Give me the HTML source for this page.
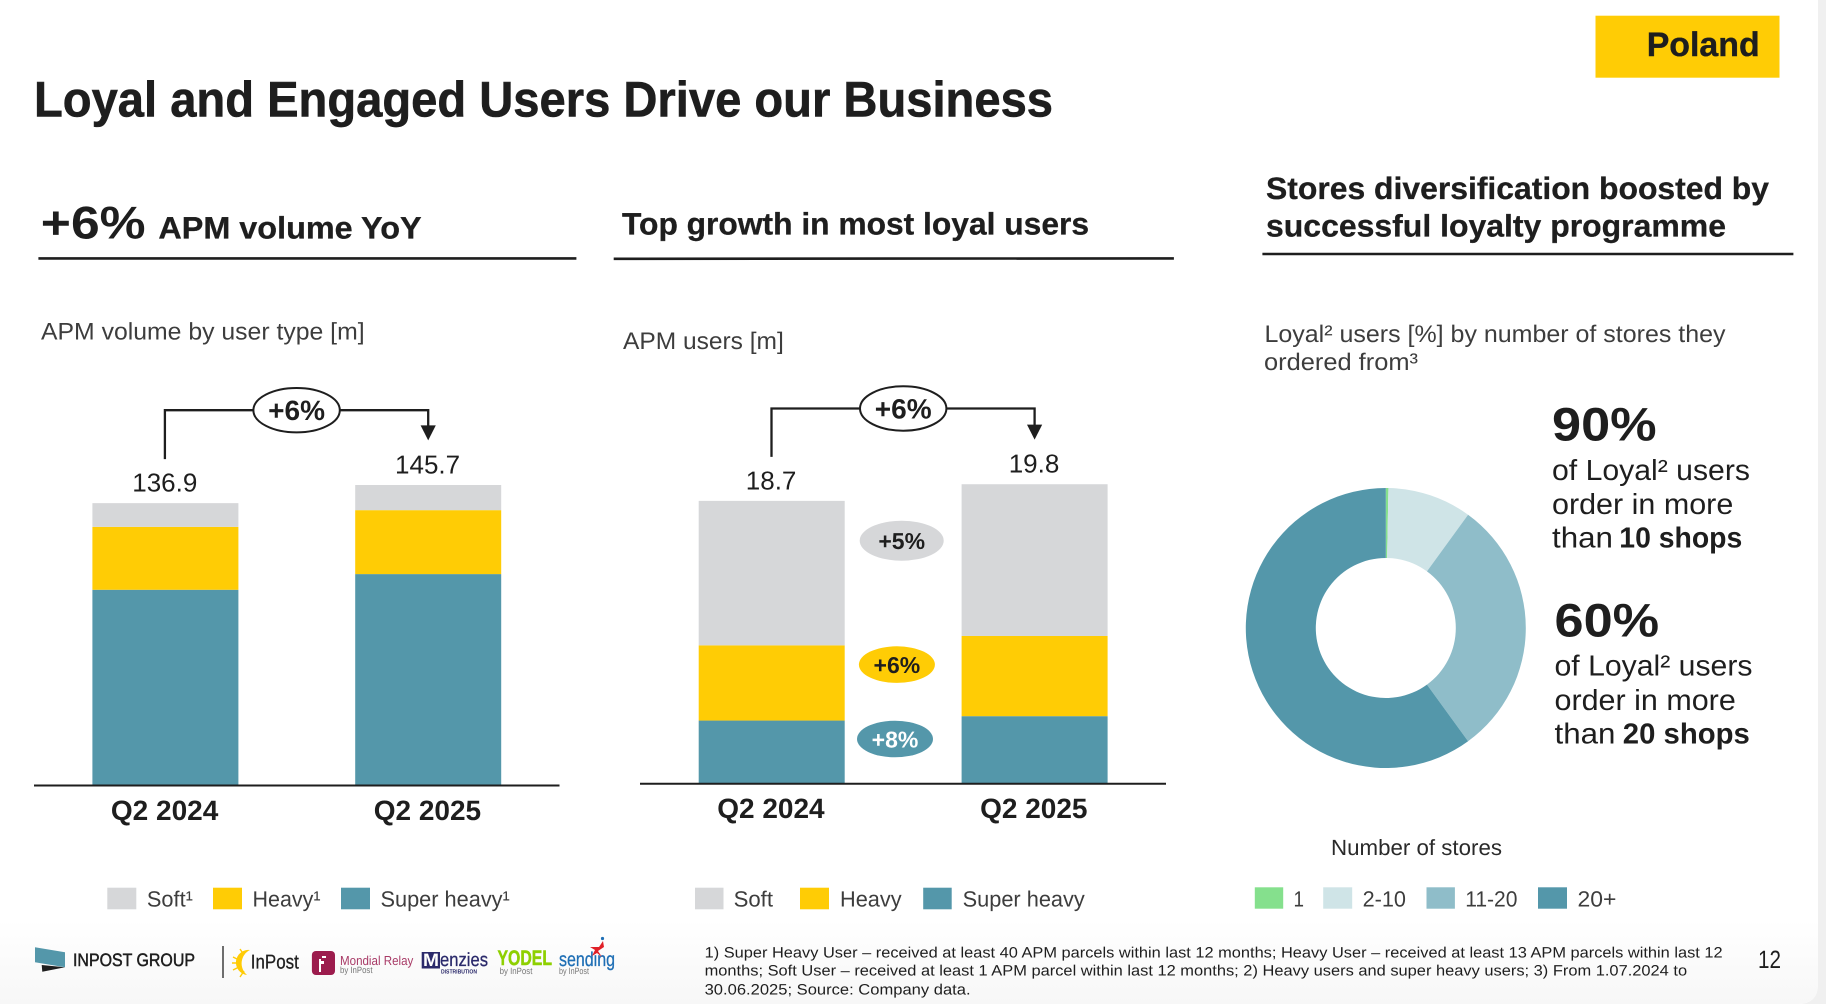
<!DOCTYPE html>
<html lang="en">
<head>
<meta charset="utf-8">
<title>Loyal and Engaged Users Drive our Business</title>
<style>
html,body{margin:0;padding:0;background:#fff;width:1826px;height:1004px;overflow:hidden}
svg{display:block}
text{font-family:"Liberation Sans",sans-serif;fill:#1e1e1e;text-rendering:geometricPrecision}
.b{font-weight:700}
.sub{font-size:24px;fill:#3d3d3d}
.head{font-size:31px;font-weight:700;stroke:#1e1e1e;stroke-width:.3}
.call{font-size:29px}
.big{font-size:47px;font-weight:700}
.leg{font-size:22px;fill:#3d3d3d}
.foot{font-size:15px}
.byline{font-size:9px;fill:#777}
.rule{stroke:#1e1e1e;stroke-width:2.6}
</style>
</head>
<body>
<svg id="slide" xmlns="http://www.w3.org/2000/svg" width="1826" height="1004" viewBox="0 0 1826 1004">
<defs>
<linearGradient id="bottomFade" x1="0" y1="0" x2="0" y2="1">
<stop offset="0" stop-color="#ffffff"/><stop offset="1" stop-color="#f7f7f7"/>
</linearGradient>
</defs>
<rect x="0" y="0" width="1826" height="1004" fill="#f0f0f0"/>
<path d="M0 0H1818V984Q1818 1004 1798 1004H0Z" fill="#ffffff"/>
<path d="M0 920H1818V984Q1818 1004 1798 1004H0Z" fill="url(#bottomFade)"/>

<rect x="1595.5" y="15.7" width="184" height="62" fill="#ffcc05"/>
<text x="1646.7" y="56" font-size="34" class="b" textLength="113" lengthAdjust="spacingAndGlyphs" style="stroke:#1e1e1e;stroke-width:.4">Poland</text>
<text x="34" y="116.7" font-size="50" class="b" textLength="1019" lengthAdjust="spacingAndGlyphs" style="stroke:#1e1e1e;stroke-width:.6">Loyal and Engaged Users Drive our Business</text>

<g>
<text x="40.8" y="238.3" font-size="46" class="b" textLength="104.8" lengthAdjust="spacingAndGlyphs">+6%</text>
<text x="158.4" y="238.3" class="head" textLength="263.2" lengthAdjust="spacingAndGlyphs">APM volume YoY</text>
<line x1="38.4" y1="258.4" x2="576.4" y2="258.4" class="rule"/>
</g>
<g>
<text x="622" y="234.3" class="head" textLength="467" lengthAdjust="spacingAndGlyphs">Top growth in most loyal users</text>
<line x1="613.7" y1="258.8" x2="1173.9" y2="258.4" class="rule"/>
</g>
<g>
<text x="1266" y="199" class="head" textLength="503" lengthAdjust="spacingAndGlyphs">Stores diversification boosted by</text>
<text x="1266" y="236.7" class="head" textLength="460" lengthAdjust="spacingAndGlyphs">successful loyalty programme</text>
<line x1="1262.4" y1="254" x2="1793.4" y2="254" class="rule"/>
</g>

<text x="41" y="339.6" class="sub" textLength="323.6" lengthAdjust="spacingAndGlyphs">APM volume by user type [m]</text>
<text x="623" y="349" class="sub" textLength="160.8" lengthAdjust="spacingAndGlyphs">APM users [m]</text>
<text x="1264.5" y="342" class="sub" textLength="461" lengthAdjust="spacingAndGlyphs">Loyal² users [%] by number of stores they</text>
<text x="1264" y="370" class="sub" textLength="154" lengthAdjust="spacingAndGlyphs">ordered from³</text>

<g id="volume-chart"></g>
<g id="users-chart"></g>
<g id="stores-chart"></g>

<g>
<ellipse cx="901.7" cy="540.7" rx="42" ry="20" fill="#d6d7d9"/>
<text x="901.7" y="549" font-size="23" class="b" text-anchor="middle">+5%</text>
<ellipse cx="896.9" cy="664.6" rx="38" ry="18.3" fill="#ffcc05"/>
<text x="896.9" y="672.9" font-size="23" class="b" text-anchor="middle">+6%</text>
<ellipse cx="895" cy="739" rx="38" ry="18.3" fill="#5497aa"/>
<text x="895" y="747.3" font-size="23" class="b" text-anchor="middle" style="fill:#fff">+8%</text>
</g>

<g>
<text x="1552" y="440.5" class="big" textLength="104.6" lengthAdjust="spacingAndGlyphs">90%</text>
<text x="1552" y="479.8" class="call" textLength="198" lengthAdjust="spacingAndGlyphs">of Loyal² users</text>
<text x="1552" y="513.9" class="call" textLength="181.3" lengthAdjust="spacingAndGlyphs">order in more</text>
<text x="1552" y="547.6" class="call" textLength="61" lengthAdjust="spacingAndGlyphs">than</text>
<text x="1619.3" y="547.6" class="call b" textLength="123" lengthAdjust="spacingAndGlyphs">10 shops</text>
</g>
<g>
<text x="1554.5" y="636.3" class="big" textLength="104.6" lengthAdjust="spacingAndGlyphs">60%</text>
<text x="1554.5" y="675.7" class="call" textLength="198" lengthAdjust="spacingAndGlyphs">of Loyal² users</text>
<text x="1554.5" y="709.8" class="call" textLength="181.3" lengthAdjust="spacingAndGlyphs">order in more</text>
<text x="1554.5" y="743.5" class="call" textLength="61" lengthAdjust="spacingAndGlyphs">than</text>
<text x="1622.8" y="743.5" class="call b" textLength="127" lengthAdjust="spacingAndGlyphs">20 shops</text>
</g>

<g>
<g><rect x="107.3" y="887.7" width="29" height="21.6" fill="#d6d7d9"/><text x="146.9" y="906.7" class="leg" textLength="46" lengthAdjust="spacingAndGlyphs">Soft¹</text></g>
<g><rect x="213" y="887.7" width="29" height="21.6" fill="#ffcc05"/><text x="252.5" y="906.7" class="leg" textLength="68" lengthAdjust="spacingAndGlyphs">Heavy¹</text></g>
<g><rect x="341" y="887.7" width="29" height="21.6" fill="#5497aa"/><text x="380.5" y="906.7" class="leg" textLength="129.3" lengthAdjust="spacingAndGlyphs">Super heavy¹</text></g>
</g>
<g>
<g><rect x="695" y="887.7" width="28.5" height="21.6" fill="#d6d7d9"/><text x="733.6" y="906.7" class="leg" textLength="39.4" lengthAdjust="spacingAndGlyphs">Soft</text></g>
<g><rect x="800" y="887.7" width="29" height="21.6" fill="#ffcc05"/><text x="840" y="906.7" class="leg" textLength="61.6" lengthAdjust="spacingAndGlyphs">Heavy</text></g>
<g><rect x="923.2" y="887.7" width="28.5" height="21.6" fill="#5497aa"/><text x="962.6" y="906.7" class="leg" textLength="122.2" lengthAdjust="spacingAndGlyphs">Super heavy</text></g>
</g>
<text x="1331" y="855" class="leg" style="fill:#2a2a2a" textLength="171" lengthAdjust="spacingAndGlyphs">Number of stores</text>
<g>
<g><rect x="1254.8" y="887.3" width="28.4" height="21.4" fill="#85e08d"/><text x="1293.5" y="906.7" class="leg" textLength="10.5" lengthAdjust="spacingAndGlyphs">1</text></g>
<g><rect x="1323.2" y="887.3" width="29" height="21.4" fill="#cfe4e7"/><text x="1362.6" y="906.7" class="leg" textLength="43.4" lengthAdjust="spacingAndGlyphs">2-10</text></g>
<g><rect x="1426.5" y="887.3" width="28.4" height="21.4" fill="#8fbdc9"/><text x="1465.2" y="906.7" class="leg" textLength="52.3" lengthAdjust="spacingAndGlyphs">11-20</text></g>
<g><rect x="1538" y="887.3" width="29" height="21.4" fill="#5497aa"/><text x="1577.5" y="906.7" class="leg" textLength="38.9" lengthAdjust="spacingAndGlyphs">20+</text></g>
</g>

<g>
<g>
<polygon points="35,947.3 65,952.3 65,967.3 35,962.3" fill="#5497aa"/>
<polygon points="41.7,965 65,967.3 42.3,971.7" fill="#1e1e1e"/>
<text x="73" y="966" font-size="18" textLength="122" lengthAdjust="spacingAndGlyphs" style="stroke:#1e1e1e;stroke-width:.5">INPOST GROUP</text>
</g>
<line x1="223" y1="946" x2="223" y2="978" stroke="#222" stroke-width="1.3"/>
<g>
<path d="M250 950 A12 12 0 0 0 247 975 A15 15 0 0 1 250 950Z" fill="#ffcb05"/>
<path d="M240 949l4 6M233 957l6 3M232 963h8M233 970l6-3M240 977l4-6" stroke="#ffcb05" stroke-width="1.4" fill="none"/>
<text x="250.8" y="968.3" font-size="20" textLength="48" lengthAdjust="spacingAndGlyphs" style="stroke:#1e1e1e;stroke-width:.3">InPost</text>
</g>
<g>
<rect x="311.9" y="951" width="23.1" height="24" rx="4" fill="#9c1c4d"/>
<path d="M320 972v-9h3v-1h-3v-2h-1M322 957h4" stroke="#fff" stroke-width="2" fill="none"/>
<text x="340" y="965" font-size="13" textLength="73.3" lengthAdjust="spacingAndGlyphs" style="fill:#a83a66">Mondial Relay</text>
<text x="340" y="973" class="byline" textLength="32.5" lengthAdjust="spacingAndGlyphs">by InPost</text>
</g>
<g>
<rect x="421.7" y="952" width="18.3" height="16.5" fill="#2b2a6b"/>
<text x="423" y="966" font-size="18" class="b" textLength="16" lengthAdjust="spacingAndGlyphs" style="fill:#fff">M</text>
<text x="440" y="966" font-size="19" textLength="48" lengthAdjust="spacingAndGlyphs" style="fill:#2b2a6b;stroke:#2b2a6b;stroke-width:.3">enzies</text>
<text x="441" y="973.5" font-size="6" class="b" textLength="36" lengthAdjust="spacingAndGlyphs" style="fill:#2b2a6b">DISTRIBUTION</text>
</g>
<g>
<text x="497.5" y="965" font-size="21" class="b" textLength="54.5" lengthAdjust="spacingAndGlyphs" style="fill:#8ed000;stroke:#8ed000;stroke-width:.5">YODEL</text>
<text x="499.6" y="974" class="byline" textLength="32.8" lengthAdjust="spacingAndGlyphs">by InPost</text>
</g>
<g>
<text x="559" y="966" font-size="20" textLength="56" lengthAdjust="spacingAndGlyphs" style="fill:#1f6fb5;stroke:#1f6fb5;stroke-width:.3">sending</text>
<polygon points="590,947 599,947 603,941 604,947 598,951 602,957 597,953 592,956 595,950" fill="#e02027"/>
<circle cx="602.5" cy="938.5" r="1.6" fill="#1f6fb5"/>
<text x="559" y="974" class="byline" textLength="30" lengthAdjust="spacingAndGlyphs">by InPost</text>
</g>
</g>

<g>
<text x="704.6" y="957.3" class="foot" textLength="1018" lengthAdjust="spacingAndGlyphs">1) Super Heavy User – received at least 40 APM parcels within last 12 months; Heavy User – received at least 13 APM parcels within last 12</text>
<text x="704.6" y="975.4" class="foot" textLength="982.5" lengthAdjust="spacingAndGlyphs">months; Soft User – received at least 1 APM parcel within last 12 months; 2) Heavy users and super heavy users; 3) From 1.07.2024 to</text>
<text x="704.6" y="994.3" class="foot" textLength="266" lengthAdjust="spacingAndGlyphs">30.06.2025; Source: Company data.</text>
</g>
<text x="1758" y="968" font-size="25" textLength="23" lengthAdjust="spacingAndGlyphs">12</text>
</svg>

<script>
// Chart 1: APM volume by user type [m]
const volumeCategories = ['Q2 2024', 'Q2 2025'];
const volumeSuperHeavy = [94.9, 102.5];
const volumeHeavy = [30.5, 31.0];
const volumeSoft = [11.5, 12.2];
const volumeTotals = ['136.9', '145.7'];
const volumeGrowth = '+6%';

// Chart 2: APM users [m]
const userCategories = ['Q2 2024', 'Q2 2025'];
const userSuperHeavy = [4.18, 4.47];
const userHeavy = [4.97, 5.30];
const userSoft = [9.55, 10.03];
const userTotals = ['18.7', '19.8'];
const userGrowth = '+6%';

// Chart 3: Loyal users [%] by number of stores ordered from
const storeCategories = ['1', '2-10', '11-20', '20+'];
const storeShares = [0.3, 9.7, 30, 60];

const SVG_NS = 'http://www.w3.org/2000/svg';
const SERIES_COLORS = ['#5497aa', '#ffcc05', '#d6d7d9'];
const SERIES_NAMES = ['super-heavy', 'heavy', 'soft'];
const DONUT_COLORS = ['#85e08d', '#cfe4e7', '#8fbdc9', '#5497aa'];

function make(tag, attrs, parent) {
  const node = document.createElementNS(SVG_NS, tag);
  Object.keys(attrs).forEach(function (k) { node.setAttribute(k, attrs[k]); });
  parent.appendChild(node);
  return node;
}

function drawStacked(root, cfg) {
  const yScale = function (v) { return cfg.baseY - v * cfg.pxPerUnit; };
  const xCenter = function (i) { return cfg.firstCenter + i * cfg.step; };
  const stackTotal = function (i) { return cfg.series.reduce(function (s, arr) { return s + arr[i]; }, 0); };

  cfg.categories.forEach(function (cat, i) {
    let running = 0;
    cfg.series.forEach(function (arr, s) {
      const top = yScale(running + arr[i]);
      const bottom = yScale(running);
      const seg = make('rect', { x: xCenter(i) - cfg.barWidth / 2, y: top, width: cfg.barWidth, height: bottom - top, fill: SERIES_COLORS[s] }, root);
      
      
      running += arr[i];
    });

    const total = make('text', { x: xCenter(i) - 0.6, y: yScale(stackTotal(i)) - 11.6, 'font-size': 26, 'text-anchor': 'middle' }, root);
    total.textContent = cfg.totals[i];
    
    

    const tick = make('text', { x: xCenter(i) - 0.8, y: cfg.tickY, 'font-size': 28, 'font-weight': 700, 'text-anchor': 'middle' }, root);
    tick.textContent = cat;
    
    
  });

  const axis = make('line', { x1: cfg.axisStart, x2: cfg.axisEnd, y1: cfg.baseY, y2: cfg.baseY, stroke: '#1e1e1e', 'stroke-width': 2 }, root);
  
  

  const x0 = xCenter(0) - cfg.connectorShift;
  const x1 = xCenter(1);
  const y0 = yScale(stackTotal(0)) - 44;
  const tipY = yScale(stackTotal(1)) - 44.6;
  const link = make('path', { d: 'M' + x0 + ' ' + y0 + 'V' + cfg.connectorY + 'H' + x1 + 'V' + (tipY - 10), fill: 'none', stroke: '#1e1e1e', 'stroke-width': 2.3 }, root);
  
  

  const head = make('polygon', { points: (x1 - 7.6) + ',' + (tipY - 15) + ' ' + (x1 + 7.6) + ',' + (tipY - 15) + ' ' + x1 + ',' + tipY, fill: '#1e1e1e' }, root);
  
  

  const bubble = make('ellipse', { cx: cfg.bubbleX, cy: cfg.connectorY, rx: 43.2, ry: 22.2, fill: '#fff', stroke: '#1e1e1e', 'stroke-width': 2 }, root);
  
  

  const bubbleText = make('text', { x: cfg.bubbleX, y: cfg.connectorY + 10, 'font-size': 28, 'font-weight': 700, 'text-anchor': 'middle' }, root);
  bubbleText.textContent = cfg.growth;
  
  
}

drawStacked(document.getElementById('volume-chart'), {
  categories: volumeCategories,
  series: [volumeSuperHeavy, volumeHeavy, volumeSoft],
  totals: volumeTotals,
  growth: volumeGrowth,
  baseY: 785.5, pxPerUnit: 2.0625,
  firstCenter: 165.4, step: 262.8, barWidth: 146,
  axisStart: 34, axisEnd: 559.5, tickY: 820,
  connectorY: 410.2, connectorShift: 0.5, bubbleX: 296.6
});

drawStacked(document.getElementById('users-chart'), {
  categories: userCategories,
  series: [userSuperHeavy, userHeavy, userSoft],
  totals: userTotals,
  growth: userGrowth,
  baseY: 783.8, pxPerUnit: 15.13,
  firstCenter: 771.7, step: 262.9, barWidth: 146,
  axisStart: 640, axisEnd: 1166, tickY: 818,
  connectorY: 408.5, connectorShift: 0.2, bubbleX: 903.2
});

(function drawDonut() {
  const root = document.getElementById('stores-chart');
  const cx = 1385.8, cy = 628, R = 140, r = 70;
  const sum = storeShares.reduce(function (a, b) { return a + b; }, 0);
  const point = function (rad, frac) {
    const a = frac * 2 * Math.PI;
    return (cx + rad * Math.sin(a)) + ' ' + (cy - rad * Math.cos(a));
  };
  let acc = 0;
  storeShares.forEach(function (share, i) {
    const f0 = acc / sum;
    acc += share;
    const f1 = acc / sum;
    const large = f1 - f0 > 0.5 ? 1 : 0;
    const d = 'M' + point(R, f0) + 'A' + R + ' ' + R + ' 0 ' + large + ' 1 ' + point(R, f1) +
              'L' + point(r, f1) + 'A' + r + ' ' + r + ' 0 ' + large + ' 0 ' + point(r, f0) + 'Z';
    const slice = make('path', { d: d, fill: DONUT_COLORS[i] }, root);
    
    
  });
})();
</script>
</body>
</html>
